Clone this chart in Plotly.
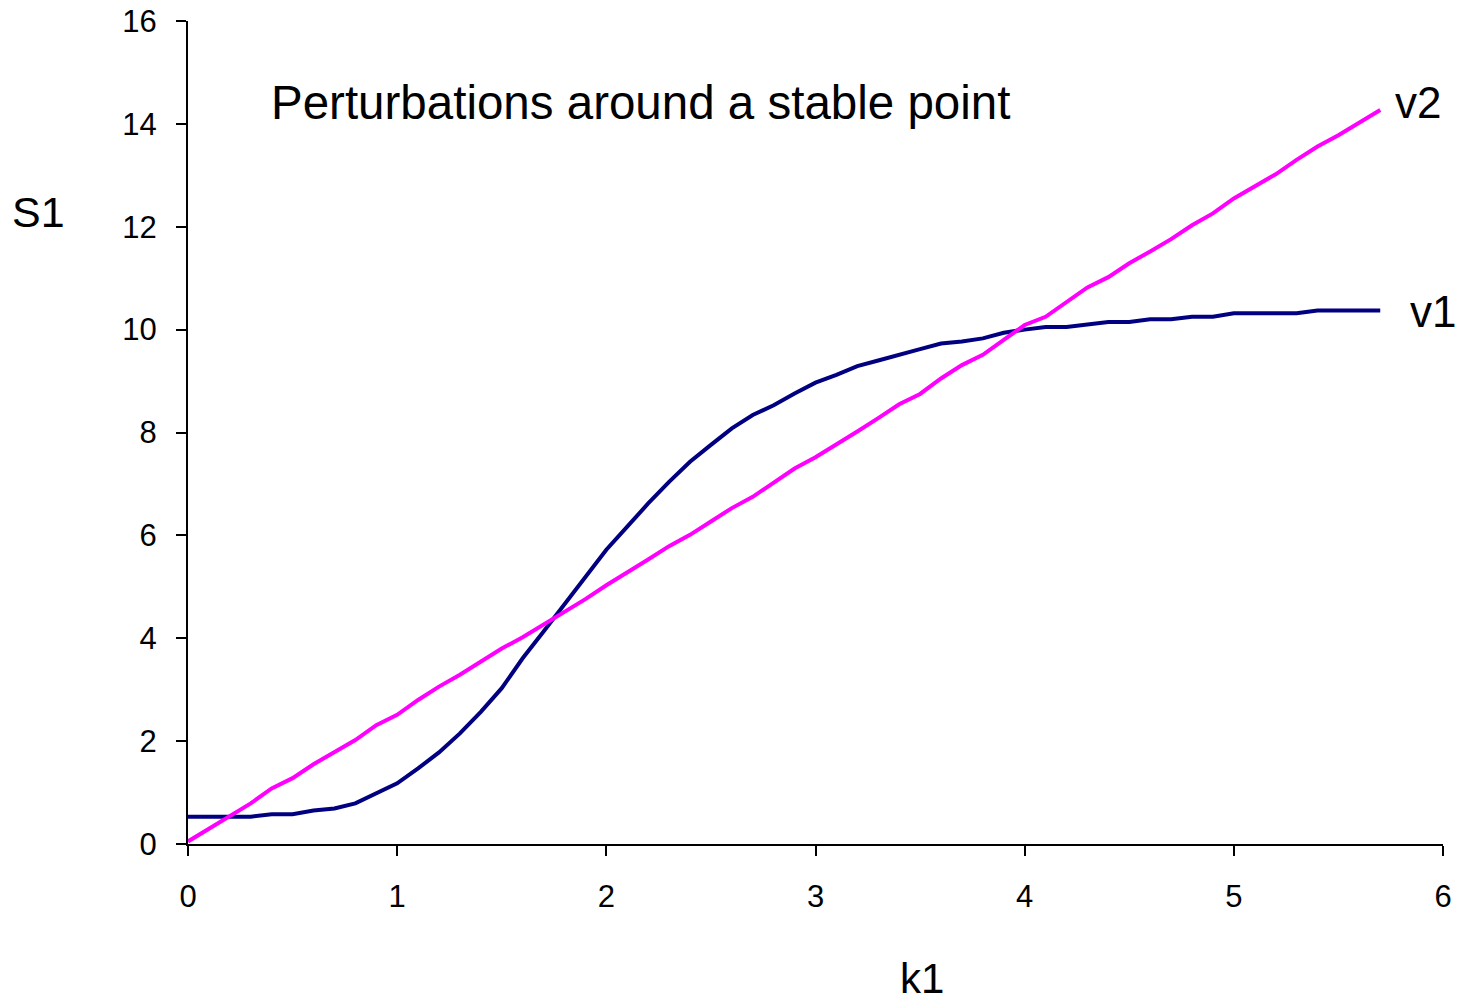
import plotly.graph_objects as go

k1 = [round(i * 0.1, 1) for i in range(58)]

v1 = [0.53, 0.53, 0.53, 0.53, 0.58, 0.58, 0.65, 0.69, 0.79, 0.98,
      1.18, 1.47, 1.78, 2.15, 2.57, 3.03, 3.61, 4.13, 4.65, 5.2,
      5.72, 6.17, 6.62, 7.04, 7.43, 7.76, 8.08, 8.34, 8.53, 8.76,
      8.97, 9.12, 9.29, 9.40, 9.52, 9.62, 9.73, 9.77, 9.83, 9.94,
      10.0, 10.05, 10.05, 10.1, 10.15, 10.15, 10.2, 10.2, 10.25, 10.25,
      10.32, 10.32, 10.32, 10.32, 10.37, 10.37, 10.37, 10.37]

v2 = [0.05, 0.29, 0.55, 0.79, 1.08, 1.28, 1.55, 1.78, 2.02, 2.31,
      2.51, 2.80, 3.06, 3.29, 3.54, 3.80, 4.02, 4.26, 4.52, 4.76,
      5.03, 5.27, 5.53, 5.79, 6.01, 6.27, 6.53, 6.75, 7.02, 7.30,
      7.52, 7.76, 8.02, 8.28, 8.55, 8.75, 9.05, 9.31, 9.51, 9.80,
      10.09, 10.25, 10.54, 10.82, 11.02, 11.29, 11.52, 11.76, 12.03, 12.26,
      12.55, 12.79, 13.02, 13.30, 13.56, 13.78, 14.02, 14.27]

x_ticks = [0, 1, 2, 3, 4, 5, 6]
y_ticks = [0, 2, 4, 6, 8, 10, 12, 14, 16]

FONT = "Liberation Sans, Arial, sans-serif"

fig = go.Figure()
fig.add_trace(go.Scatter(x=k1, y=v1, mode="lines", name="v1",
                         line=dict(color="#000080", width=4)))
fig.add_trace(go.Scatter(x=k1, y=v2, mode="lines", name="v2",
                         line=dict(color="#FF00FF", width=4)))

fig.update_layout(
    width=1460, height=1003,
    margin=dict(l=188, r=17, t=21, b=159, autoexpand=False),
    paper_bgcolor="white", plot_bgcolor="white",
    showlegend=False,
    font=dict(family=FONT, color="black"),
    xaxis=dict(range=[0, 6], tickvals=x_ticks, showgrid=False, zeroline=False,
               showline=True, linecolor="black", linewidth=2, automargin=False,
               ticks="outside", ticklen=10, tickwidth=2, tickcolor="black",
               tickfont=dict(size=31, family=FONT), ticklabelstandoff=14),
    yaxis=dict(range=[0, 16], tickvals=y_ticks, showgrid=False, zeroline=False,
               showline=True, linecolor="black", linewidth=2, automargin=False,
               ticks="outside", ticklen=10, tickwidth=2, tickcolor="black",
               tickfont=dict(size=31, family=FONT), ticklabelstandoff=13),
    annotations=[
        dict(text="Perturbations around a stable point", xref="paper", yref="paper",
             x=(269 - 188) / 1255, y=(844 - 102) / 823, xanchor="left", yanchor="middle",
             showarrow=False, font=dict(size=47.5, family=FONT)),
        dict(text="v2", xref="paper", yref="paper",
             x=(1393 - 188) / 1255, y=(844 - 102) / 823, xanchor="left", yanchor="middle",
             showarrow=False, font=dict(size=44, family=FONT)),
        dict(text="v1", xref="paper", yref="paper",
             x=(1408 - 188) / 1255, y=(844 - 312) / 823, xanchor="left", yanchor="middle",
             showarrow=False, font=dict(size=44, family=FONT)),
        dict(text="S1", xref="paper", yref="paper",
             x=(38 - 188) / 1255, y=(844 - 212) / 823, xanchor="center", yanchor="middle",
             showarrow=False, font=dict(size=43, family=FONT)),
        dict(text="k1", xref="paper", yref="paper",
             x=(922 - 188) / 1255, y=(844 - 978) / 823, xanchor="center", yanchor="middle",
             showarrow=False, font=dict(size=42, family=FONT)),
    ],
)

fig.write_html("out.html", config={"displayModeBar": False},
               post_script="document.body.style.margin='0';document.body.style.overflow='hidden';")
